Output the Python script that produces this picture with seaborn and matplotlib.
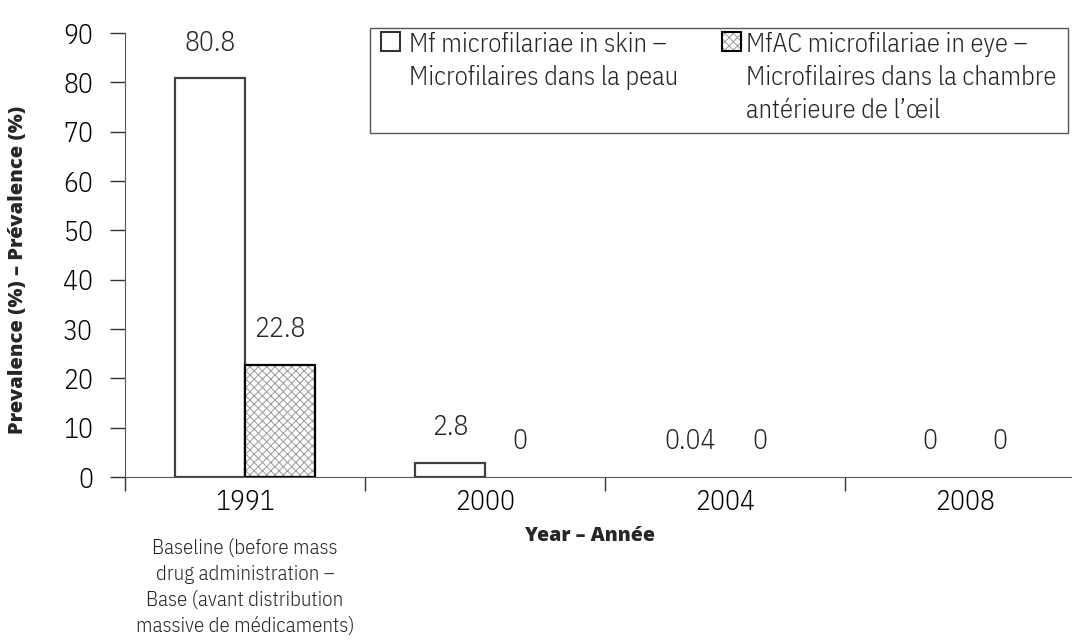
import numpy as np
import pandas as pd
import matplotlib
matplotlib.use("Agg")
import matplotlib.pyplot as plt
import matplotlib.colors as mcolors
from matplotlib.patches import Rectangle
import seaborn as sns

# data
years = ["1991", "2000", "2004", "2008"]
series = ["Mf", "MfAC"]
mf_skin = [80.8, 2.8, 0.04, 0]
mfac_eye = [22.8, 0, 0, 0]
value_labels = [["80.8", "2.8", "0.04", "0"], ["22.8", "0", "0", "0"]]
legend_labels = ["Mf microfilariae in skin \u2013\nMicrofilaires dans la peau",
                 "MfAC microfilariae in eye \u2013\nMicrofilaires dans la chambre\nant\u00e9rieure de l\u2019\u0153il"]
baseline_note = ("Baseline (before mass\ndrug administration \u2013\n"
                 "Base (avant distribution\nmassive de m\u00e9dicaments)")
y_ticks = [0, 10, 20, 30, 40, 50, 60, 70, 80, 90]

df = pd.DataFrame({
    "year": years * 2,
    "series": [series[0]] * 4 + [series[1]] * 4,
    "value": mf_skin + mfac_eye,
})

sns.set_style("white")
plt.rcParams["font.family"] = ["IBM Plex Sans Condensed", "DejaVu Sans"]
plt.rcParams["font.stretch"] = "condensed"
plt.rcParams["font.weight"] = 300
plt.rcParams["hatch.linewidth"] = 0.7
bold = dict(family=["Open Sans", "DejaVu Sans"], fontweight=800,
            fontstretch="normal")

fig = plt.figure(figsize=(10.72, 6.44), dpi=100)
ax = fig.add_axes([125 / 1072, 1 - 477 / 644, 960 / 1072, 444 / 644])

sns.barplot(data=df, x="year", y="value", hue="series", order=years,
            hue_order=series, palette=["white", "white"], width=0.58,
            saturation=1, legend=False, ax=ax)

edge = ["#404040", "black"]
for i, cont in enumerate(ax.containers):
    for p in cont:
        p.set_edgecolor(edge[i])
        p.set_linewidth(1.6)
        if i == 1:
            p.set_hatch("xxxx")
            p._hatch_color = mcolors.to_rgba("#9a9a9a")
        if p.get_height() < 0.5:
            # near-zero bars are not visible in the original
            p.set_visible(False)
    for p, lab in zip(cont, value_labels[i]):
        ax.annotate(lab, (p.get_x() + p.get_width() / 2, p.get_height()),
                    xytext=(0, 20), textcoords="offset points",
                    ha="center", va="baseline", fontsize=20)

ax.set_ylim(0, 90)
ax.set_xlim(-0.5, 3.5)
ax.set_yticks(y_ticks)
ax.tick_params(axis="y", direction="out", length=11, width=1, color="#333333",
               labelsize=20, pad=12, left=True, labelcolor="black")
ax.tick_params(axis="x", which="major", length=0, labelsize=20, pad=9,
               labelcolor="black")
ax.set_xticks(np.arange(-0.5, 4, 1), minor=True)
ax.tick_params(axis="x", which="minor", direction="out", length=10, width=1,
               color="#333333", bottom=True)
ax.set_xlabel("")
ax.set_ylabel("")
for s in ["top", "right"]:
    ax.spines[s].set_visible(False)
ax.spines["left"].set_color("#555555")
ax.spines["bottom"].set_color("#555555")

ax.text(0, -0.14, baseline_note, transform=ax.get_xaxis_transform(),
        ha="center", va="top", fontsize=15, linespacing=1.47)

fig.text(590 / 1072, 1 - 536 / 644, "Year \u2013 Ann\u00e9e", ha="center",
         va="center", fontsize=14, **bold)
fig.text(18 / 1072, 1 - 270 / 644, "Prevalence (%) \u2013 Pr\u00e9valence (%)",
         rotation=90, ha="center", va="center", fontsize=14.5, **bold)

# legend box
W, H = 1072, 644
fig.patches.append(Rectangle((370 / W, 1 - 133 / H), 698 / W, 105 / H,
                             transform=fig.transFigure, fill=False,
                             edgecolor="#555555", linewidth=1))
sq = [(381, "white", None, "#333333"), (722, "white", "xxxx", "black")]
text_x = [409, 746]
for (x0, fc, h, ec), tx, lab in zip(sq, text_x, legend_labels):
    r = Rectangle((x0 / W, 1 - 51 / H), 19 / W, 19 / H,
                  transform=fig.transFigure, facecolor=fc, edgecolor=ec,
                  linewidth=1.5, hatch=h)
    if h:
        r._hatch_color = mcolors.to_rgba("#9a9a9a")
    fig.patches.append(r)
    for k, line in enumerate(lab.split("\n")):
        fig.text(tx / W, 1 - (52 + 33 * k) / H, line, ha="left",
                 va="baseline", fontsize=19)

fig.savefig("out.png", dpi=100)
